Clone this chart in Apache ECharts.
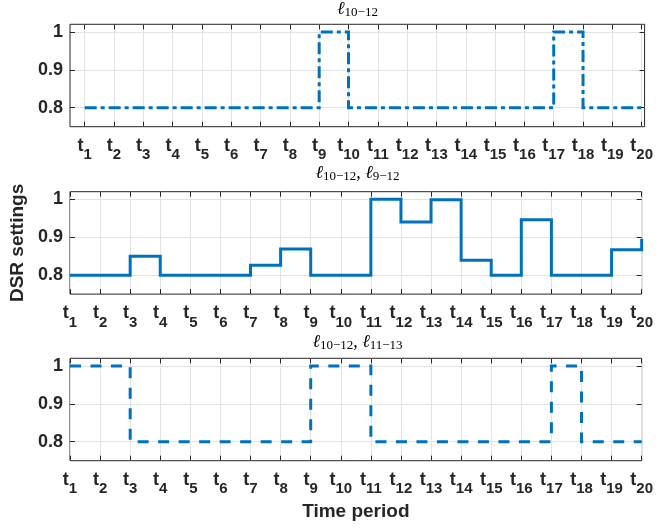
<!DOCTYPE html>
<html>
<head>
<meta charset="utf-8">
<script src="https://cdn.jsdelivr.net/npm/echarts@6/dist/echarts.min.js"></script>
<style>
html,body{margin:0;padding:0;background:#fff;}
#c{width:656px;height:529px;}
</style>
</head>
<body>
<div id="c"></div>
<script>
// ---- data ----
const periods = [1,2,3,4,5,6,7,8,9,10,11,12,13,14,15,16,17,18,19,20];
const xTickSubs = ['1','2','3','4','5','6','7','8','9','10','11','12','13','14','15','16','17','18','19','20'];
const yTicks = [0.8, 0.9, 1];
const dsrL1012 = [0.8,0.8,0.8,0.8,0.8,0.8,0.8,0.8,1,0.8,0.8,0.8,0.8,0.8,0.8,0.8,1,0.8,0.8,0.8];
const dsrL1012L912 = [0.8,0.8,0.85,0.8,0.8,0.8,0.826,0.869,0.8,0.8,1,0.94,0.999,0.839,0.8,0.946,0.8,0.8,0.867,0.896];
const dsrL1012L1113 = [1,1,0.8,0.8,0.8,0.8,0.8,0.8,1,1,0.8,0.8,0.8,0.8,0.8,0.8,1,0.8,0.8,0.8];
const titleSubs = [['10\u221212'], ['10\u221212','9\u221212'], ['10\u221212','11\u221213']];
const yAxisTitle = 'DSR settings';
const xAxisTitle = 'Time period';

// ---- layout ----
const BLUE = '#0072BD';
const INK = '#262626';
const GRIDC = '#e3e3e3';
const panelTops = [24.3, 191.7, 358.3];
const titleTops = [-1, 163.5, 332];
const xRanges = [[0.5, 20.1], [1, 20], [1, 20]];
const seriesValues = [dsrL1012, dsrL1012L912, dsrL1012L1113];
const lineTypes = [[12,4,4,4], 'solid', [11,9.5]];

const grid = panelTops.map(t => ({
  left: 70, width: 575.3, top: t, height: 102.4,
  show: true, borderColor: INK, borderWidth: 1, backgroundColor: '#fff'
}));

const xAxis = [];
const yAxis = [];
const series = [];
for (let i = 0; i < 3; i++) {
  ['bottom','top'].forEach(pos => {
    const main = pos === 'bottom';
    xAxis.push({
      type: 'value', gridIndex: i, position: pos,
      min: xRanges[i][0], max: xRanges[i][1],
      axisLine: {show: false},
      axisTick: {show: true, inside: true, length: 5, customValues: periods, lineStyle: {color: INK, width: 1}},
      axisLabel: {
        show: main, customValues: periods, margin: 16,
        formatter: v => '{t|t}{s|' + xTickSubs[periods.indexOf(v)] + '}',
        rich: {
          t: {fontFamily: 'Liberation Sans', fontWeight: 'bold', fontSize: 18, lineHeight: 20, color: INK, verticalAlign: 'bottom', padding: [0,0,8,0]},
          s: {fontFamily: 'Liberation Sans', fontWeight: 'bold', fontSize: 15, lineHeight: 17, color: INK, verticalAlign: 'bottom'}
        }
      },
      splitLine: {show: main, lineStyle: {color: GRIDC, width: 1}},
      name: (main && i === 2) ? xAxisTitle : '',
      nameLocation: 'middle', nameGap: 42,
      nameTextStyle: {fontFamily: 'Liberation Sans', fontWeight: 'bold', fontSize: 19, color: INK}
    });
  });
  ['left','right'].forEach(pos => {
    const main = pos === 'left';
    yAxis.push({
      type: 'value', gridIndex: i, position: pos,
      min: 0.75, max: 1.02,
      axisLine: {show: false},
      axisTick: {show: true, inside: true, length: 5, customValues: yTicks, lineStyle: {color: INK, width: 1}},
      axisLabel: {
        show: main, customValues: yTicks, margin: 7,
        fontFamily: 'Liberation Sans', fontWeight: 'bold', fontSize: 18, color: INK,
        formatter: v => String(+v.toFixed(2))
      },
      splitLine: {show: main, lineStyle: {color: GRIDC, width: 1}},
      name: (main && i === 1) ? yAxisTitle : '',
      nameLocation: 'middle', nameGap: 34, nameRotate: 90,
      nameTextStyle: {fontFamily: 'Liberation Sans', fontWeight: 'bold', fontSize: 19, color: INK}
    });
  });
  series.push({
    type: 'line', xAxisIndex: 2*i, yAxisIndex: 2*i, step: 'end',
    symbol: 'none', silent: true, clip: true,
    data: periods.map((p, k) => [p, seriesValues[i][k]]),
    lineStyle: {color: BLUE, width: 3, type: lineTypes[i], join: 'miter', cap: 'butt'},
    z: 5
  });
}

const title = titleSubs.map((subs, i) => ({
  text: subs.map(s => '{l|\u2113}{s|' + s + '}').join('{c|, }'),
  left: 357.5, top: titleTops[i], textAlign: 'center', padding: 0,
  textStyle: {
    fontWeight: 'normal',
    rich: {
      l: {fontFamily: 'Liberation Serif', fontStyle: 'italic', fontWeight: 'normal', fontSize: 18, lineHeight: 20, color: '#000', verticalAlign: 'bottom', padding: [0,0,1,0]},
      s: {fontFamily: 'Liberation Serif', fontWeight: 'normal', fontSize: 13, lineHeight: 14, color: '#000', verticalAlign: 'bottom'},
      c: {fontFamily: 'Liberation Serif', fontWeight: 'normal', fontSize: 18, lineHeight: 20, color: '#000', verticalAlign: 'bottom', padding: [0,0,1,0]}
    }
  }
}));

const chart = echarts.init(document.getElementById('c'), null, {renderer: 'canvas'});
chart.setOption({
  animation: false,
  backgroundColor: '#fff',
  title, grid, xAxis, yAxis, series
});
</script>
</body>
</html>
